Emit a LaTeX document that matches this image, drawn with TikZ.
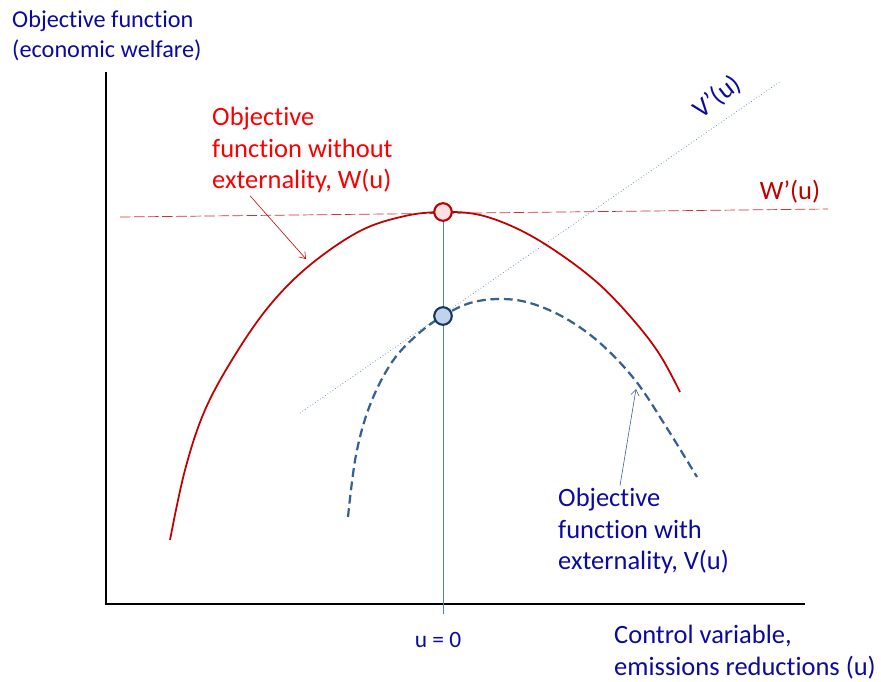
\documentclass[tikz,border=0pt]{standalone}
\usepackage{fontspec}
\setmainfont{Carlito}[Ligatures=NoCommon]
\usetikzlibrary{arrows.meta}
\definecolor{txtblue}{RGB}{10,10,160}
\definecolor{wred}{RGB}{192,0,0}
\definecolor{lblred}{RGB}{250,0,0}
\definecolor{vblue}{RGB}{55,96,146}
\definecolor{lineblue}{RGB}{79,129,189}
\definecolor{vnavy}{RGB}{23,55,94}
\tikzset{
 lbl/.style={align=left,inner sep=0pt,anchor=north west},
 marker/.style={circle,line width=1.8pt,minimum size=15pt,inner sep=0pt},
 pointer/.style={-{Straight Barb[length=5pt,width=7pt]},line width=0.5pt},
}
\begin{document}
\begin{tikzpicture}[x=0.03cm,y=-0.03cm,font=\fontsize{22.6}{27}\selectfont]
 \useasboundingbox (0,0) rectangle (881,681);
 % axes
 \coordinate (ytop) at (106,72);
 \coordinate (orig) at (106,604);
 \coordinate (xend) at (805,604);
 \draw[line width=1.5pt] (ytop) -- (orig) -- (xend);
 % tangent lines
 \coordinate (wlo) at (120,217);
 \coordinate (whi) at (828,209);
 \draw[wred!80,dash pattern=on 9pt off 3pt,line width=0.6pt] (wlo) -- (whi);
 \coordinate (vlo) at (300,413);
 \coordinate (vhi) at (781,81);
 \draw[lineblue,dotted,line width=0.6pt] (vlo) -- (vhi);
 % u = 0
 \coordinate (wtop) at (443,212);
 \coordinate (vtop) at (443,316);
 \coordinate (ubase) at (443,614);
 \draw[lineblue,line width=0.6pt] (wtop) -- (ubase);
 % W(u) and V(u)
 \draw[wred,line width=1.5pt] plot[smooth,tension=0.6] coordinates {(170,540) (185,470)
  (205,410) (235,355) (270,305) (310,265) (360,231) (405,216) (443,212) (480,215)
  (520,230) (560,254) (600,285) (635,322) (660,355) (680,392)};
 \draw[vblue,line width=1.9pt,dash pattern=on 7.5pt off 4pt] plot[smooth,tension=0.6] coordinates {(348,517)
  (356,455) (370,405) (392,362) (418,334) (443,316) (470,303) (500,299) (530,303)
  (565,318) (600,343) (635,380) (665,425) (697,477)};
 \node[marker,draw=wred,fill=red!12] (wmax) at (wtop) {};
 \node[marker,draw=vnavy,fill=lineblue!35] (vmax) at (vtop) {};
 % labels
 \node[lbl,text=txtblue,font=\fontsize{20.7}{25.6}\selectfont] (ylbl) at (12,10) {Objective function\\(economic welfare)};
 \node[lbl,text=lblred] (wlbl) at (212,107) {Objective\\function without\\externality, W(u)};
 \node[lbl,text=txtblue] (vlbl) at (558,488) {Objective\\function with\\externality, V(u)};
 \node[text=wred] (wdash) at (790,192) {W’(u)};
 \node[text=txtblue,rotate=38] (vdash) at (717,97) {V’(u)};
 \node[text=txtblue,anchor=base,font=\fontsize{20}{24}\selectfont] (uzero) at (438,647) {u = 0};
 \node[lbl,text=txtblue] (xlbl) at (614,625) {Control variable,\\emissions reductions (u)};
 % pointers
 \coordinate (wtip) at (306,259);
 \coordinate (vtip) at (636,389);
 \draw[pointer,wred] ([xshift=1.14cm,yshift=-2pt]wlbl.south west) -- (wtip);
 \draw[pointer,vblue] ([xshift=1.86cm,yshift=2pt]vlbl.north west) -- (vtip);
\end{tikzpicture}
\end{document}
